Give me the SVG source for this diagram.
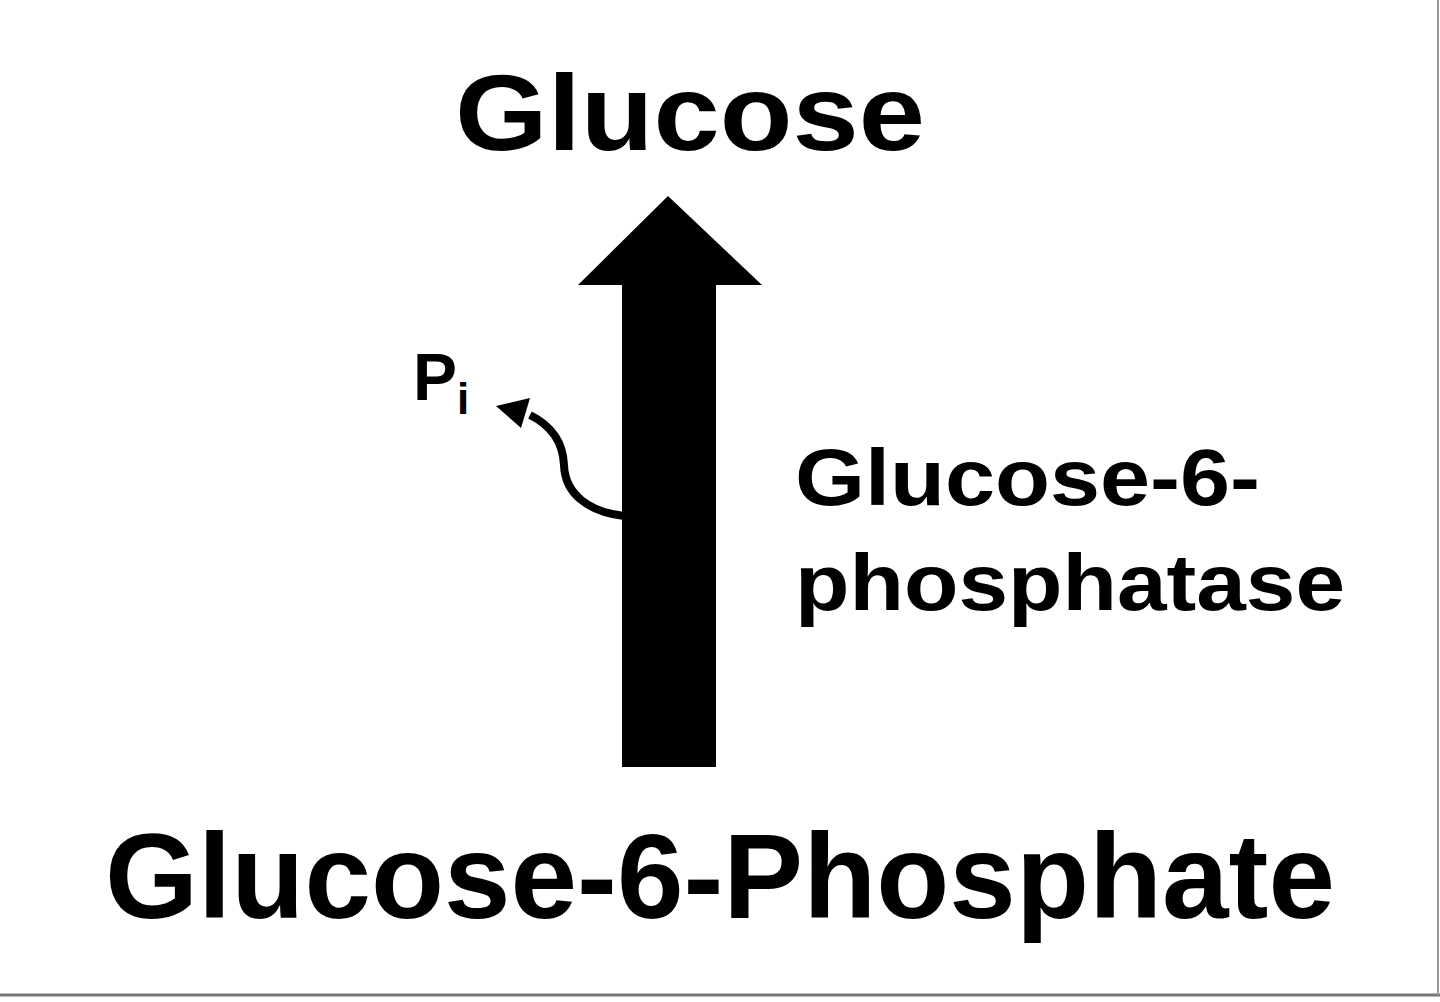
<svg xmlns="http://www.w3.org/2000/svg" width="1440" height="1002" viewBox="0 0 1440 1002">
<style>
text{font-family:"Liberation Sans",Arial,sans-serif;font-weight:bold;fill:#000}
</style>
<rect width="1440" height="1002" fill="#fff"/>
<line x1="0" y1="995" x2="1440" y2="995" stroke="#777" stroke-width="3"/>
<line x1="1438" y1="0" x2="1438" y2="995" stroke="#999" stroke-width="2"/>
<g id="glucose"><text x="455" y="150" font-size="108" textLength="470" lengthAdjust="spacingAndGlyphs">Glucose</text></g>
<g id="g6p"><text x="105" y="918" font-size="120" textLength="1230" lengthAdjust="spacingAndGlyphs">Glucose-6-Phosphate</text></g>
<g id="enzyme">
<text x="795" y="505" font-size="80" textLength="465" lengthAdjust="spacingAndGlyphs">Glucose-6-</text>
<text x="795" y="610" font-size="80" textLength="550" lengthAdjust="spacingAndGlyphs">phosphatase</text>
</g>
<g id="pi"><text x="413" y="400" font-size="66">P<tspan font-size="44" dy="14">i</tspan></text></g>
<g id="connectors">
<path d="M622,767 L716,767 L716,285 L762,285 L668,196 L578,285 L622,285 Z" fill="#000"/>
<path d="M624,516 C590,512 565,495 564,465 C563,440 550,425 530,415" fill="none" stroke="#000" stroke-width="8"/>
<path d="M496,406 L530,398 L521,428 Z" fill="#000"/>
</g>
</svg>
